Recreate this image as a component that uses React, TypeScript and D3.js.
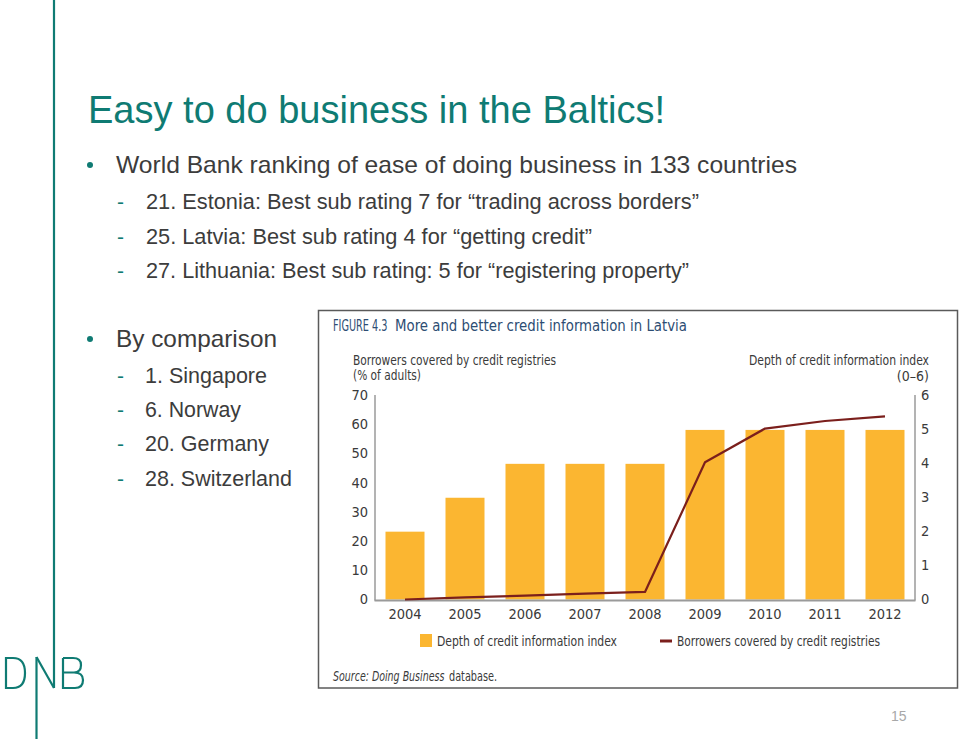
import React from "react";
import * as d3 from "d3";

const years = ["2004", "2005", "2006", "2007", "2008", "2009", "2010", "2011", "2012"];
const depthIndex = [2, 3, 4, 4, 4, 5, 5, 5, 5];
const borrowersCovered = [0, 0.7, 1.3, 2.0, 2.6, 47.2, 58.8, 61.4, 63.0];
const leftTicks = [0, 10, 20, 30, 40, 50, 60, 70];
const rightTicks = [0, 1, 2, 3, 4, 5, 6];

const subItems = [
  { num: "21.", text: "21. Estonia: Best sub rating 7 for \u201Ctrading across borders\u201D" },
  { num: "25.", text: "25. Latvia: Best sub rating 4 for \u201Cgetting credit\u201D" },
  { num: "27.", text: "27. Lithuania: Best sub rating: 5 for \u201Cregistering property\u201D" },
];
const comparison = ["1. Singapore", "6. Norway", "20. Germany", "28. Switzerland"];

const TEAL = "#0f7b73";
const TEXT = "#3c3c3c";
const BAR = "#fbb631";
const LINE = "#7b1f1c";
const CHART_TEXT = "#3a3a3a";
const NARROW = "'Liberation Sans Narrow', 'DejaVu Sans Condensed', sans-serif";
const SANS = "'Liberation Sans', Arial, sans-serif";

export default function App() {
  const W = 959;
  const H = 739;
  const x = d3.scaleBand<string>().domain(years).range([375, 915]).paddingInner(0.35).paddingOuter(0.175);
  const yL = d3.scaleLinear().domain([0, 70]).range([599.5, 396]);
  const yR = d3.scaleLinear().domain([0, 6]).range([599.5, 396]);
  const lineGen = d3
    .line<number>()
    .x((_, i) => (x(years[i]) as number) + x.bandwidth() / 2)
    .y((d) => yL(d));

  const subBaselines = [209, 244, 278];
  const subWidths = [553, 446, 543];
  const compBaselines = [383, 417, 451, 486];
  const compWidths = [122, 96, 124, 147];

  return (
    <svg width={W} height={H} style={{ position: "absolute", left: 0, top: 0 }}>
      <rect x={0} y={0} width={W} height={H} fill="#ffffff" />
      {/* left teal rule & logo */}
      <line x1={54} y1={0} x2={54} y2={688} stroke={TEAL} strokeWidth={2.2} />
      <line x1={54} y1={688} x2={36.5} y2={657} stroke={TEAL} strokeWidth={2.2} />
      <line x1={36.5} y1={657} x2={36.5} y2={739} stroke={TEAL} strokeWidth={2.2} />
      <path d="M6,658 L6,688 L13,688 Q25,688 25,673 Q25,658 13,658 Z" fill="none" stroke={TEAL} strokeWidth={2.2} />
      <path d="M63,658 L63,688 L75,688 Q83,688 83,680 Q83,672.5 74,672.5 L63,672.5 M74,672.5 Q81,672.5 81,665 Q81,658 73,658 L63,658" fill="none" stroke={TEAL} strokeWidth={2.2} />

      {/* title */}
      <text x={88} y={123} fontFamily={SANS} fontSize={39} fill={TEAL} textLength={577} lengthAdjust="spacingAndGlyphs">
        Easy to do business in the Baltics!
      </text>

      {/* bullets */}
      <circle cx={90} cy={165} r={3} fill={TEAL} />
      <text x={116} y={173} fontFamily={SANS} fontSize={24} fill={TEXT} textLength={681} lengthAdjust="spacingAndGlyphs">
        World Bank ranking of ease of doing business in 133 countries
      </text>
      {subItems.map((s, i) => (
        <g key={s.num}>
          <text x={117} y={subBaselines[i]} fontFamily={SANS} fontSize={21} fill={TEAL}>-</text>
          <text x={146} y={subBaselines[i]} fontFamily={SANS} fontSize={21.5} fill={TEXT} textLength={subWidths[i]} lengthAdjust="spacingAndGlyphs">
            {s.text}
          </text>
        </g>
      ))}
      <circle cx={90} cy={339} r={3} fill={TEAL} />
      <text x={116} y={347} fontFamily={SANS} fontSize={24} fill={TEXT} textLength={161} lengthAdjust="spacingAndGlyphs">
        By comparison
      </text>
      {comparison.map((c, i) => (
        <g key={c}>
          <text x={117} y={compBaselines[i]} fontFamily={SANS} fontSize={21} fill={TEAL}>-</text>
          <text x={145} y={compBaselines[i]} fontFamily={SANS} fontSize={21.5} fill={TEXT} textLength={compWidths[i]} lengthAdjust="spacingAndGlyphs">
            {c}
          </text>
        </g>
      ))}

      {/* chart frame */}
      <rect x={318.5} y={310.5} width={639} height={377.5} fill="#fff" stroke="#5a5a5a" strokeWidth={1.5} />
      <text transform="translate(333,331) scale(0.72,1)" fontFamily={NARROW} fontSize={15} fill="#2d4d73">FIGURE 4.3</text>
      <text x={395} y={331} fontFamily={NARROW} fontSize={15} fill="#2d4d73" textLength={292} lengthAdjust="spacingAndGlyphs">
        More and better credit information in Latvia
      </text>

      <text x={353} y={365} fontFamily={NARROW} fontSize={14} fill={CHART_TEXT} textLength={203} lengthAdjust="spacingAndGlyphs">
        Borrowers covered by credit registries
      </text>
      <text x={353} y={380} fontFamily={NARROW} fontSize={14} fill={CHART_TEXT} textLength={68} lengthAdjust="spacingAndGlyphs">
        (% of adults)
      </text>
      <text x={749} y={365} fontFamily={NARROW} fontSize={14} fill={CHART_TEXT} textLength={180} lengthAdjust="spacingAndGlyphs">
        Depth of credit information index
      </text>
      <text x={929} y={381} textAnchor="end" fontFamily={NARROW} fontSize={14} fill={CHART_TEXT}>
        (0–6)
      </text>

      {/* bars */}
      {depthIndex.map((v, i) => (
        <rect key={years[i]} x={x(years[i])} y={yR(v)} width={x.bandwidth()} height={yR(0) - yR(v)} fill={BAR} />
      ))}

      {/* axes */}
      <line x1={375} y1={395} x2={375} y2={600.5} stroke="#9a9a9a" strokeWidth={1.5} />
      <line x1={915} y1={395} x2={915} y2={600.5} stroke="#9a9a9a" strokeWidth={1.5} />
      <line x1={374.5} y1={600.5} x2={915.5} y2={600.5} stroke="#9a9a9a" strokeWidth={2} />
      {leftTicks.map((t) => (
        <text key={t} x={368} y={yL(t)} dy="0.3em" textAnchor="end" fontFamily={NARROW} fontSize={14.5} fill={CHART_TEXT}>
          {t}
        </text>
      ))}
      {rightTicks.map((t) => (
        <text key={t} x={921} y={yR(t)} dy="0.3em" fontFamily={NARROW} fontSize={14.5} fill={CHART_TEXT}>
          {t}
        </text>
      ))}
      {years.map((yr) => (
        <text key={yr} x={(x(yr) as number) + x.bandwidth() / 2} y={619} textAnchor="middle" fontFamily={NARROW} fontSize={14.5} fill={CHART_TEXT}>
          {yr}
        </text>
      ))}

      {/* line */}
      <path d={lineGen(borrowersCovered) || ""} fill="none" stroke={LINE} strokeWidth={2.2} strokeLinejoin="round" />

      {/* legend */}
      <rect x={420} y={634} width={12} height={13} fill={BAR} />
      <text x={437} y={646} fontFamily={NARROW} fontSize={14} fill={CHART_TEXT} textLength={180} lengthAdjust="spacingAndGlyphs">
        Depth of credit information index
      </text>
      <line x1={660} y1={641} x2={672} y2={641} stroke={LINE} strokeWidth={3} />
      <text x={677} y={646} fontFamily={NARROW} fontSize={14} fill={CHART_TEXT} textLength={203} lengthAdjust="spacingAndGlyphs">
        Borrowers covered by credit registries
      </text>

      {/* source */}
      <text transform="translate(333,681) scale(0.78,1)" fontFamily={NARROW} fontSize={13.5} fontStyle="italic" fill={CHART_TEXT}>
        Source: Doing Business
      </text>
      <text transform="translate(449,681) scale(0.8,1)" fontFamily={NARROW} fontSize={13.5} fill={CHART_TEXT}>
        database.
      </text>

      {/* page number */}
      <text x={891} y={721} fontFamily={SANS} fontSize={14} fill="#a8a8a8">15</text>
    </svg>
  );
}
